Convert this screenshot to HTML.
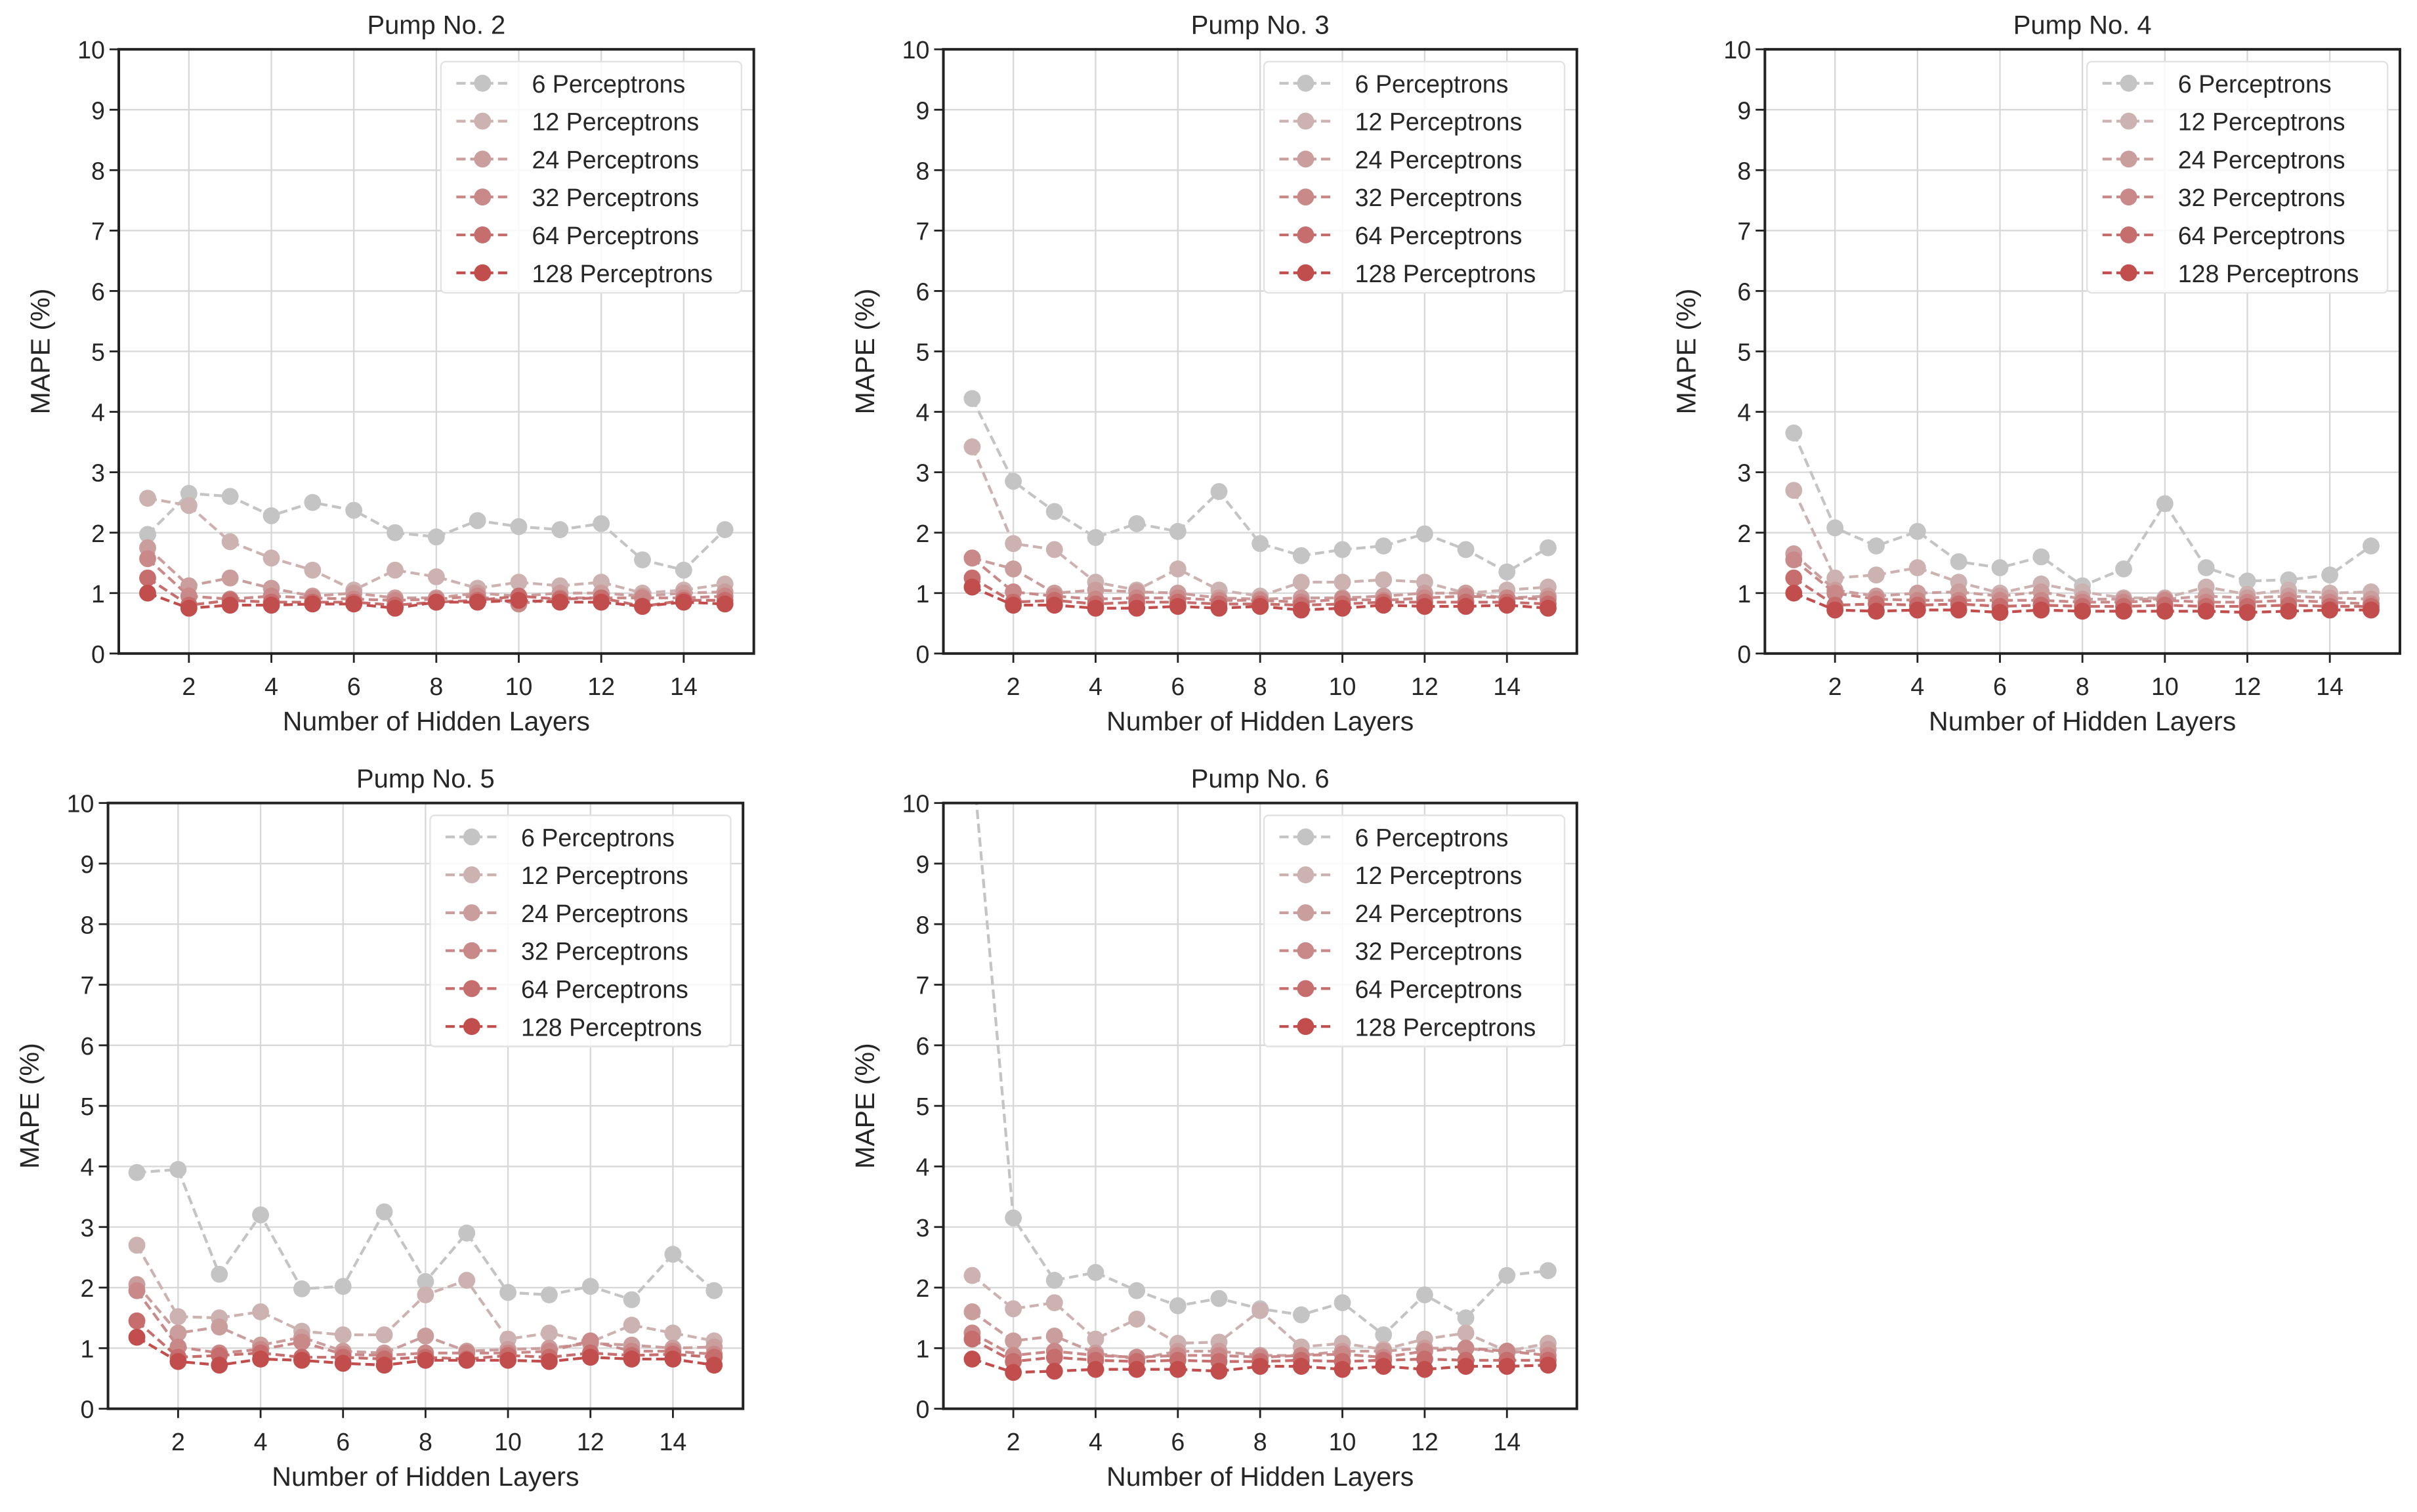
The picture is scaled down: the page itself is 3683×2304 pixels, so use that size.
<!DOCTYPE html>
<html><head><meta charset="utf-8"><style>
html,body{margin:0;padding:0;background:#fff;}
svg{display:block;font-family:"Liberation Sans",Arial,sans-serif;}
</style></head><body>
<svg id="fig" width="3683" height="2304" viewBox="0 0 1568 981" xmlns="http://www.w3.org/2000/svg"></svg>
<script>
const seriesLabels = ["6 Perceptrons","12 Perceptrons","24 Perceptrons","32 Perceptrons","64 Perceptrons","128 Perceptrons"];
const seriesColors = ["#c4c4c4","#cdb2b2","#cb9e9e","#c98989","#c66e6e","#c24d4d"];
const layers = [1,2,3,4,5,6,7,8,9,10,11,12,13,14,15];
const xTicks = [2,4,6,8,10,12,14];
const yTicks = [0,1,2,3,4,5,6,7,8,9,10];
const pumpTitles = ["Pump No. 2","Pump No. 3","Pump No. 4","Pump No. 5","Pump No. 6"];

const pump2 = [
 [1.97,2.65,2.6,2.28,2.5,2.37,2.0,1.93,2.2,2.1,2.05,2.15,1.55,1.38,2.05],
 [2.57,2.45,1.85,1.58,1.38,1.05,1.38,1.27,1.08,1.18,1.12,1.18,1.0,1.05,1.15],
 [1.75,1.12,1.25,1.08,0.95,1.0,0.92,0.92,1.0,0.95,1.0,1.0,0.95,1.0,1.02],
 [1.57,0.95,0.9,0.95,0.92,0.9,0.88,0.9,0.95,0.82,0.92,0.92,0.92,0.92,0.95],
 [1.25,0.8,0.88,0.85,0.85,0.85,0.8,0.85,0.88,0.95,0.9,0.92,0.78,0.88,0.88],
 [1.0,0.75,0.8,0.8,0.82,0.82,0.75,0.85,0.85,0.88,0.85,0.85,0.78,0.85,0.82]];
const pump3 = [
 [4.22,2.85,2.35,1.92,2.15,2.02,2.68,1.82,1.62,1.72,1.78,1.98,1.72,1.35,1.75],
 [3.42,1.82,1.72,1.18,1.05,1.4,1.05,0.95,1.18,1.18,1.22,1.18,1.0,1.05,1.1],
 [1.58,1.4,1.0,1.05,1.02,1.0,0.92,0.9,0.92,0.92,0.95,1.0,1.0,0.92,0.95],
 [1.58,1.02,0.95,0.9,0.92,0.92,0.88,0.88,0.85,0.9,0.88,0.92,0.95,0.92,0.9],
 [1.25,0.85,0.88,0.82,0.85,0.85,0.82,0.82,0.8,0.82,0.85,0.85,0.85,0.85,0.82],
 [1.1,0.8,0.8,0.75,0.75,0.78,0.75,0.78,0.72,0.75,0.8,0.78,0.78,0.8,0.75]];
const pump4 = [
 [3.65,2.08,1.78,2.02,1.52,1.42,1.6,1.12,1.4,2.48,1.42,1.2,1.22,1.3,1.78],
 [2.7,1.25,1.3,1.42,1.18,1.0,1.15,1.02,0.92,0.92,1.1,0.98,1.05,1.0,1.02],
 [1.65,1.05,0.95,1.0,1.02,0.95,1.02,0.9,0.9,0.9,0.95,0.92,0.95,0.92,0.9],
 [1.55,1.0,0.9,0.88,0.88,0.88,0.88,0.85,0.85,0.88,0.85,0.85,0.88,0.85,0.82],
 [1.25,0.8,0.82,0.8,0.82,0.78,0.8,0.78,0.78,0.8,0.78,0.78,0.8,0.78,0.78],
 [1.0,0.72,0.7,0.72,0.72,0.68,0.72,0.7,0.7,0.7,0.7,0.68,0.7,0.72,0.72]];
const pump5 = [
 [3.9,3.95,2.22,3.2,1.98,2.02,3.25,2.1,2.9,1.92,1.88,2.02,1.8,2.55,1.95],
 [2.7,1.52,1.5,1.6,1.28,1.22,1.22,1.88,2.12,1.15,1.25,1.1,1.38,1.25,1.12],
 [2.05,1.25,1.35,1.05,1.18,0.95,0.92,1.2,0.95,0.98,1.0,1.08,1.05,1.0,1.02],
 [1.95,1.02,0.92,0.98,1.1,0.9,0.88,0.92,0.92,0.92,0.95,1.12,0.95,0.95,0.9],
 [1.45,0.85,0.88,0.92,0.85,0.85,0.82,0.85,0.82,0.88,0.85,0.92,0.88,0.9,0.85],
 [1.18,0.78,0.72,0.82,0.8,0.75,0.72,0.8,0.8,0.8,0.78,0.85,0.82,0.82,0.72]];
const pump6 = [
 [10.8,3.15,2.12,2.25,1.95,1.7,1.82,1.65,1.55,1.75,1.22,1.88,1.5,2.2,2.28],
 [2.2,1.65,1.75,1.15,1.48,1.08,1.1,1.62,1.02,1.08,0.98,1.15,1.25,0.95,1.08],
 [1.6,1.12,1.2,0.92,0.82,0.95,0.95,0.88,0.88,0.95,0.95,1.0,1.0,0.92,0.98],
 [1.25,0.88,0.95,0.88,0.85,0.88,0.88,0.85,0.88,0.9,0.85,0.95,1.0,0.95,0.88],
 [1.15,0.78,0.85,0.8,0.78,0.8,0.78,0.78,0.8,0.78,0.8,0.82,0.8,0.8,0.8],
 [0.82,0.6,0.62,0.65,0.65,0.65,0.62,0.7,0.7,0.65,0.7,0.65,0.7,0.7,0.72]];
const pumpData = [pump2,pump3,pump4,pump5,pump6];

const NS = "http://www.w3.org/2000/svg";
const fig = document.getElementById('fig');
const panels = [
 {L:77,R:489,T:32,B:424},
 {L:612,R:1023,T:32,B:424},
 {L:1145,R:1557,T:32,B:424},
 {L:70,R:482,T:521,B:914},
 {L:612,R:1023,T:521,B:914}];
const XMIN=0.3, XMAX=15.7, YMIN=0, YMAX=10;

function mk(tag, attrs, parent){
  const e=document.createElementNS(NS,tag);
  for(const k in attrs) e.setAttribute(k,attrs[k]);
  (parent||fig).appendChild(e);
  return e;
}

panels.forEach((p,pi)=>{
  const g = mk('g',{});
  
  
  const xs = v => p.L + (v-XMIN)/(XMAX-XMIN)*(p.R-p.L);
  const ys = v => p.B - (v-YMIN)/(YMAX-YMIN)*(p.B-p.T);
  const clipId='clip'+pi;
  const cp = mk('clipPath',{id:clipId},g);
  mk('rect',{x:p.L,y:p.T,width:p.R-p.L,height:p.B-p.T},cp);
  xTicks.forEach(t=>{
    const l=mk('line',{x1:xs(t),x2:xs(t),y1:p.T,y2:p.B,stroke:'#d8d8d8','stroke-width':1},g);
    
    
    mk('line',{x1:xs(t),x2:xs(t),y1:p.B,y2:p.B+6,stroke:'#222','stroke-width':1.2},g);
    const tx=mk('text',{x:xs(t),y:p.B+27,'text-anchor':'middle','font-size':16,fill:'#262626'},g);
    tx.textContent=t;
    
    
  });
  yTicks.forEach(t=>{
    const l=mk('line',{x1:p.L,x2:p.R,y1:ys(t),y2:ys(t),stroke:'#d8d8d8','stroke-width':1},g);
    
    
    mk('line',{x1:p.L-6,x2:p.L,y1:ys(t),y2:ys(t),stroke:'#222','stroke-width':1.2},g);
    const tx=mk('text',{x:p.L-9,y:ys(t)+6,'text-anchor':'end','font-size':16,fill:'#262626'},g);
    tx.textContent=t;
    
    
  });
  const data=pumpData[pi];
  const sg=mk('g',{'clip-path':'url(#'+clipId+')'},g);
  data.forEach((vals,si)=>{
    const pts=vals.map((v,i)=>xs(layers[i]).toFixed(2)+','+ys(v).toFixed(2)).join(' ');
    const pl=mk('polyline',{points:pts,fill:'none',stroke:seriesColors[si],'stroke-width':1.8,'stroke-dasharray':'6,3'},sg);
    
    
    vals.forEach((v,i)=>{
      const c=mk('circle',{cx:xs(layers[i]),cy:ys(v),r:5.5,fill:seriesColors[si]},sg);
      
      
    });
  });
  const sp=mk('rect',{x:p.L,y:p.T,width:p.R-p.L,height:p.B-p.T,fill:'none',stroke:'#222','stroke-width':1.7},g);
  
  
  const ti=mk('text',{x:(p.L+p.R)/2,y:p.T-10,'text-anchor':'middle','font-size':17,fill:'#262626'},g);
  ti.textContent=pumpTitles[pi];
  
  
  const xl=mk('text',{x:(p.L+p.R)/2,y:p.B+50,'text-anchor':'middle','font-size':17.5,fill:'#262626'},g);
  xl.textContent='Number of Hidden Layers';
  
  
  const cy=(p.T+p.B)/2, cx=p.L-45;
  const yl=mk('text',{x:cx,y:cy,'text-anchor':'middle','font-size':17.5,fill:'#262626',transform:'rotate(-90 '+cx+' '+cy+')'},g);
  yl.textContent='MAPE (%)';
  
  
  const lx=p.R-203, ly=p.T+8;
  const lg=mk('g',{},g);
  
  
  mk('rect',{x:lx,y:ly,width:195,height:150,rx:3,fill:'rgba(255,255,255,0.85)',stroke:'#e2e2e2','stroke-width':1},lg);
  seriesLabels.forEach((lab,si)=>{
    const yy=ly+14+si*24.6;
    const e=mk('g',{},lg);
    
    
    mk('line',{x1:lx+10,x2:lx+44,y1:yy,y2:yy,stroke:seriesColors[si],'stroke-width':1.8,'stroke-dasharray':'6,3'},e);
    mk('circle',{cx:lx+27,cy:yy,r:5.5,fill:seriesColors[si]},e);
    const t=mk('text',{x:lx+59,y:yy+6,'font-size':16,fill:'#262626'},e);
    t.textContent=lab;
  });
});
</script>
</body></html>
